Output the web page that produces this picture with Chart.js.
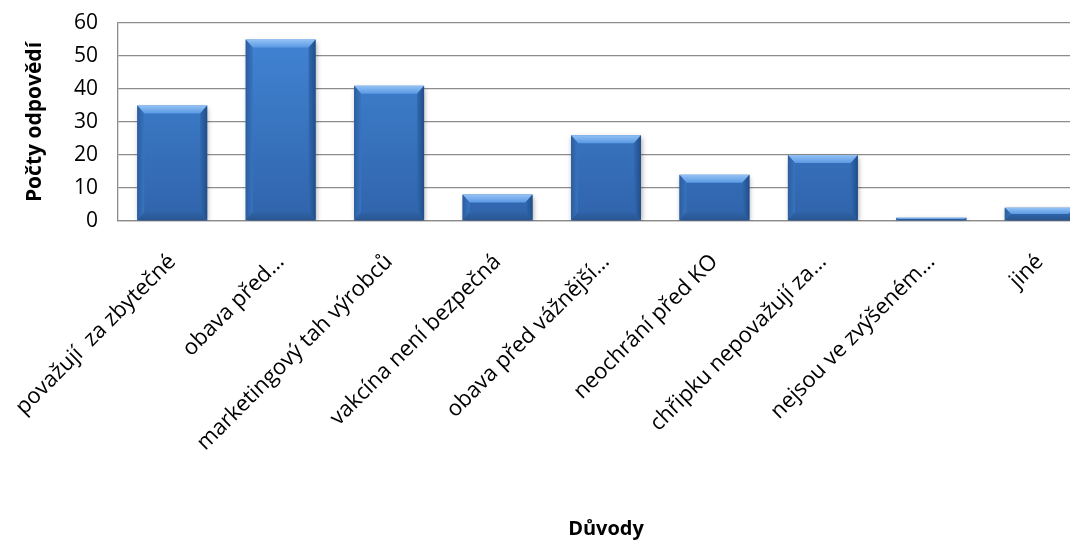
<!DOCTYPE html>
<html>
<head>
<meta charset="utf-8">
<script src="https://cdn.jsdelivr.net/npm/chart.js@4"></script>
<style>
  html, body { margin: 0; padding: 0; background: #fff; overflow: hidden; }
  #wrap { width: 1100px; height: 543px; }
</style>
</head>
<body>
<div id="wrap"><canvas id="c" width="1100" height="543"></canvas></div>
<script>
// Důvody, proč respondenti odmítají očkování
const categories = [
  'považují  za zbytečné',
  'obava před…',
  'marketingový tah výrobců',
  'vakcína není bezpečná',
  'obava před vážnější…',
  'neochrání před KO',
  'chřipku nepovažují za…',
  'nejsou ve zvýšeném…',
  'jiné'
];
const counts = [35, 55, 41, 8, 26, 14, 20, 1, 4];
const yTicks = [0, 10, 20, 30, 40, 50, 60];

const FONT = '"Open Sans", Lato, sans-serif';

// Beveled face for each bar, drawn over the library's bar rectangles
const bevelPlugin = {
  id: 'bevel',
  afterDatasetsDraw(chart) {
    const ctx = chart.ctx;
    chart.getDatasetMeta(0).data.forEach(bar => {
      const left = bar.x - bar.width / 2, right = bar.x + bar.width / 2;
      const top = bar.y, bottom = bar.base;
      const h = bottom - top;
      const b = Math.min(8, h / 2);
      const s = Math.min(7, h / 2);
      ctx.save();
      // top bevel
      let g = ctx.createLinearGradient(0, top, 0, top + b);
      g.addColorStop(0, '#93c2f5');
      g.addColorStop(1, '#5b99e3');
      ctx.fillStyle = g;
      ctx.beginPath();
      ctx.moveTo(left, top); ctx.lineTo(right, top);
      ctx.lineTo(right - s, top + b); ctx.lineTo(left + s, top + b);
      ctx.closePath(); ctx.fill();
      // left bevel
      g = ctx.createLinearGradient(left, 0, left + s, 0);
      g.addColorStop(0, '#2c5d9e');
      g.addColorStop(1, '#3874c0');
      ctx.fillStyle = g;
      ctx.beginPath();
      ctx.moveTo(left, top); ctx.lineTo(left + s, top + b);
      ctx.lineTo(left + s, bottom - b); ctx.lineTo(left, bottom);
      ctx.closePath(); ctx.fill();
      // right bevel
      g = ctx.createLinearGradient(right, 0, right - s, 0);
      g.addColorStop(0, '#224d88');
      g.addColorStop(1, '#3069b0');
      ctx.fillStyle = g;
      ctx.beginPath();
      ctx.moveTo(right, top); ctx.lineTo(right - s, top + b);
      ctx.lineTo(right - s, bottom - b); ctx.lineTo(right, bottom);
      ctx.closePath(); ctx.fill();
      // bottom bevel
      g = ctx.createLinearGradient(0, bottom - b, 0, bottom);
      g.addColorStop(0, '#2f63a8');
      g.addColorStop(1, '#28558f');
      ctx.fillStyle = g;
      ctx.beginPath();
      ctx.moveTo(left, bottom); ctx.lineTo(left + s, bottom - b);
      ctx.lineTo(right - s, bottom - b); ctx.lineTo(right, bottom);
      ctx.closePath(); ctx.fill();
      ctx.restore();
    });
  }
};

// Soft drop shadow beneath bars
const shadowPlugin = {
  id: 'barShadow',
  beforeDatasetsDraw(chart) {
    const ctx = chart.ctx;
    ctx.save();
    ctx.shadowColor = 'rgba(0,0,0,0.35)';
    ctx.shadowBlur = 5;
    ctx.shadowOffsetX = 1;
    ctx.shadowOffsetY = 2;
  },
  afterDatasetsDraw(chart) {
    chart.ctx.restore();
  }
};

new Chart(document.getElementById('c'), {
  type: 'bar',
  data: {
    labels: categories,
    datasets: [{
      data: counts,
      backgroundColor(ctx) {
        const area = ctx.chart.chartArea;
        if (!area) return '#3a78c6';
        const g = ctx.chart.ctx.createLinearGradient(0, area.top, 0, area.bottom);
        g.addColorStop(0, '#4286d6');
        g.addColorStop(1, '#3064ab');
        return g;
      },
      borderWidth: 0,
      categoryPercentage: 1,
      barPercentage: 0.645
    }]
  },
  plugins: [shadowPlugin, bevelPlugin],
  options: {
    responsive: false,
    animation: false,
    layout: { padding: { top: 23, right: 6, left: 0, bottom: 0 } },
    plugins: { legend: { display: false }, tooltip: { enabled: false } },
    scales: {
      y: {
        min: 0, max: 60,
        afterBuildTicks(axis) { axis.ticks = yTicks.map(v => ({ value: v })); },
        afterFit(axis) { axis.width = 118; axis.paddingTop = 0; axis.paddingBottom = 0; },
        ticks: { color: '#000', font: { family: FONT, size: 21 }, padding: 20 },
        grid: { color: '#8c8c8c', lineWidth: 1.3, drawTicks: false },
        border: { color: '#8c8c8c', width: 1.3 },
        title: {
          display: true, text: 'Počty odpovědí', color: '#000',
          font: { family: FONT, size: 21, weight: 'bold' }, padding: { top: 22, bottom: 0 }
        }
      },
      x: {
        afterFit(axis) { axis.height = 322; axis.paddingLeft = 0; axis.paddingRight = 0; },
        ticks: {
          color: '#000', font: { family: FONT, size: 22 },
          minRotation: 45, maxRotation: 45, autoSkip: false, padding: 28
        },
        grid: { display: false, drawTicks: false },
        border: { color: '#8c8c8c', width: 1.3 },
        title: {
          display: true, text: 'Důvody', color: '#000',
          font: { family: FONT, size: 20, weight: 'bold' }, padding: { top: 0, bottom: 2 }
        }
      }
    }
  }
});
</script>
</body>
</html>
